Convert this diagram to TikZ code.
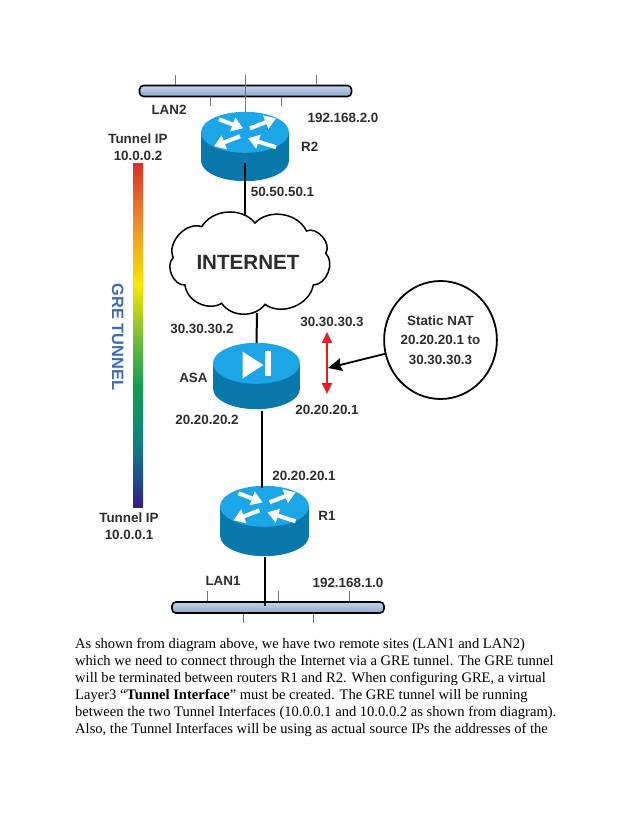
\documentclass[tikz,border=0pt]{standalone}
\usepackage{fontspec}
\setmainfont{Liberation Serif}
\newfontfamily\lblfont{Liberation Sans}
\usepackage{xcolor}
\usetikzlibrary{arrows.meta,positioning,calc,shapes.geometric}
\definecolor{DiskTop}{RGB}{28,166,232}
\definecolor{DiskBody}{RGB}{11,120,172}
\definecolor{LblGray}{RGB}{45,45,45}
\definecolor{GreBlue}{RGB}{62,108,176}
\definecolor{NatRed}{RGB}{232,28,36}
\definecolor{BusHi}{RGB}{196,212,232}
\definecolor{BusLo}{RGB}{140,168,204}
\pgfdeclareverticalshading{tunnelbar}{100bp}{
  rgb(0bp)=(0.22,0.11,0.50);
  rgb(25bp)=(0.22,0.11,0.50);
  rgb(29bp)=(0.12,0.30,0.55);
  rgb(34bp)=(0.06,0.50,0.50);
  rgb(42.8bp)=(0.07,0.63,0.31);
  rgb(49.35bp)=(0.44,0.73,0.23);
  rgb(57.35bp)=(0.98,0.91,0.0);
  rgb(66.85bp)=(0.93,0.54,0.18);
  rgb(75bp)=(0.86,0.19,0.15);
  rgb(100bp)=(0.86,0.19,0.15)}
\tikzset{
  disk/.style={inner sep=0pt,minimum width=88pt,minimum height=69pt},
  lbl/.style={font=\lblfont\bfseries\fontsize{13.4}{17}\selectfont,text=LblGray,inner sep=0pt,align=center},
  bus/.style={rounded corners=4pt,draw=black,line width=1.6pt,top color=BusHi,bottom color=BusLo,
              minimum width=212pt,minimum height=11pt,inner sep=0pt},
  stub/.style={draw=black!55,line width=0.8pt},
  link/.style={draw=black,line width=2pt},
  puff/.style={draw=black,line width=1.5pt,fill=white},
  turn/.style={white,line width=4pt,-{Triangle[length=11pt,width=14pt]}},
  natarrow/.style={black,line width=1.8pt,-{Stealth[length=14pt,width=13pt,inset=2pt]}},
  natspan/.style={NatRed,line width=2pt,{Triangle[length=11pt,width=10pt]}-{Triangle[length=11pt,width=10pt]}},
  para/.style={font=\fontsize{14.55}{16.9}\selectfont,align=left,inner sep=0pt},
}
\newcommand{\drawdisk}[2]{
  \fill[DiskBody] ($(#1.south)+(0,-20.5)$) ellipse [x radius=#2,y radius=20.5];
  \fill[DiskBody] ($(#1.north west)+(0,20.5)$) rectangle ($(#1.south east)+(0,-20.5)$);
  \fill[DiskTop] ($(#1.north)+(0,20.5)$) ellipse [x radius=#2,y radius=20.5];
}
\newcommand{\routerturns}[1]{
  \begin{scope}[shift={($(#1.north)+(0,20.5)$)}]
    \draw[turn] (-26,-13) -- (-2,-4);
    \draw[turn] (5,-4) -- (31,-14);
    \draw[turn] (-5,4) -- (-31,14);
    \draw[turn] (31,15) -- (3,6);
  \end{scope}
}
\begin{document}
\begin{tikzpicture}[x=1pt,y=-1pt]
  \useasboundingbox (0,0) rectangle (638,826);
  \node[bus] (lan2) at (245.5,91) {};
  \foreach \dx in {-70.5,0,70.5} \draw[stub] ($(lan2.north)+(\dx,0)$) -- +(0,-10);
  \foreach \dx in {-35.5,35.5} \draw[stub] ($(lan2.south)+(\dx,0)$) -- +(0,9);
  \node[disk] (r2) at (245,146.5) {};
  \drawdisk{r2}{44}
  \routerturns{r2}
  \draw[stub] ($(lan2.north)+(-0.5,-10)$) -- (r2.north);

  \coordinate (cloudtop) at (245,216);
  \coordinate (cloudbot) at (257,313);
  \draw[link] ($(r2.center)+(0,16.5)$) -- (cloudtop);
  \draw[puff] (255,223) to[bend left=55] (306.5,231) to[bend left=75] (325.7,253.3)
    to[bend left=68] (313.3,285) to[bend left=58] (265,304.3) to[bend left=55] (221.7,303.3)
    to[bend left=58] (185,285) to[bend left=72] (173.3,257.7) to[bend left=68] (201.7,226.7)
    to[bend left=55] cycle;
  \node[lbl,font=\lblfont\bfseries\fontsize{20.6}{24}\selectfont] (internet) at (248,262) {INTERNET};

  \node[disk,minimum width=87pt,minimum height=66pt] (asa) at (256.5,376) {};
  \drawdisk{asa}{43.5}
  \fill[white] ($(asa.center)+(-13.8,-24.3)$) -- ($(asa.center)+(-13.8,2.3)$) -- ($(asa.center)+(6.8,-11)$) -- cycle;
  \fill[white] ($(asa.center)+(8.5,-25.3)$) rectangle ($(asa.center)+(14.2,0)$);
  \draw[link] (cloudbot) -- (asa.north);

  \node[disk,minimum width=89pt,minimum height=70pt] (r1) at (264.5,521) {};
  \drawdisk{r1}{44.5}
  \routerturns{r1}
  \coordinate (asaout) at (262,411);
  \coordinate (r1in) at (262,488);
  \draw[link] (asaout) -- (r1in);

  \node[bus] (lan1) at (278,607.5) {};
  \foreach \dx in {-71,0,71} \draw[stub] ($(lan1.north)+(\dx,0)$) -- +(0,-10);
  \foreach \dx in {-35,35} \draw[stub] ($(lan1.south)+(\dx,0)$) -- +(0,9);
  \coordinate (lan1tap) at (265,606);
  \draw[link] ($(r1.south)+(0.5,1)$) -- (lan1tap);

  \node[minimum width=10pt,minimum height=343pt,inner sep=0pt,shading=tunnelbar] (bar) at (138,335.5) {};
  \node[lbl,above=3pt of bar] (tunneltop) {Tunnel IP\\10.0.0.2};
  \node[lbl,below=5pt of bar,xshift=-9pt] (tunnelbot) {Tunnel IP\\10.0.0.1};
  \node[lbl,text=GreBlue,rotate=-90,font=\lblfont\bfseries\fontsize{16.4}{18}\selectfont] (gre) at ($(bar.west)+(-15,1.5)$) {GRE TUNNEL};

  \coordinate (natup) at (327,332);
  \coordinate (natdown) at (327,394);
  \coordinate (natmid) at (328,368);
  \draw[natspan] (natup) -- (natdown);
  \node[ellipse,draw=black,line width=1.8pt,minimum width=101pt,minimum height=118pt,inner sep=0pt,
        lbl,font=\lblfont\bfseries\fontsize{13.4}{19.5}\selectfont] (nat) at (440.5,340) {Static NAT\\20.20.20.1 to\\30.30.30.3};
  \draw[natarrow] (nat) -- (natmid);

  \node[lbl,below=8pt of lan2,xshift=-76.5pt] (lan2lbl) {LAN2};
  \node[lbl,below=16pt of lan2,xshift=97.5pt] (net2lbl) {192.168.2.0};
  \node[lbl,right=11.7pt of r2] (r2lbl) {R2};
  \node[lbl,below=6pt of r2,xshift=37.5pt] (wanlbl) {50.50.50.1};
  \node[lbl,above=9pt of asa,xshift=-54.5pt] (asaup) {30.30.30.2};
  \node[lbl,above=5pt of natup,xshift=5pt] (natuplbl) {30.30.30.3};
  \node[lbl,left=5pt of asa,yshift=-2pt] (asalbl) {ASA};
  \node[lbl,below=6pt of asa,xshift=-49.5pt] (asadown) {20.20.20.2};
  \node[lbl,below=11pt of natdown] (natdownlbl) {20.20.20.1};
  \node[lbl,above=5pt of r1,xshift=39.5pt] (r1up) {20.20.20.1};
  \node[lbl,right=9pt of r1,yshift=5pt] (r1lbl) {R1};
  \node[lbl,above=15.5pt of lan1,xshift=-55pt] (lan1lbl) {LAN1};
  \node[lbl,above=13.5pt of lan1,xshift=70pt] (net1lbl) {192.168.1.0};

  \node[para,anchor=north west] (body) at (75,638.5) {As shown from diagram above, we have two remote sites (LAN1 and LAN2)\\
    which we need to connect through the Internet via a GRE tunnel. The GRE tunnel\\
    will be terminated between routers R1 and R2. When configuring GRE, a virtual\\
    Layer3 ``\textbf{Tunnel Interface}'' must be created. The GRE tunnel will be running\\
    between the two Tunnel Interfaces (10.0.0.1 and 10.0.0.2 as shown from diagram).\\
    Also, the Tunnel Interfaces will be using as actual source IPs the addresses of the};
\end{tikzpicture}
\end{document}
